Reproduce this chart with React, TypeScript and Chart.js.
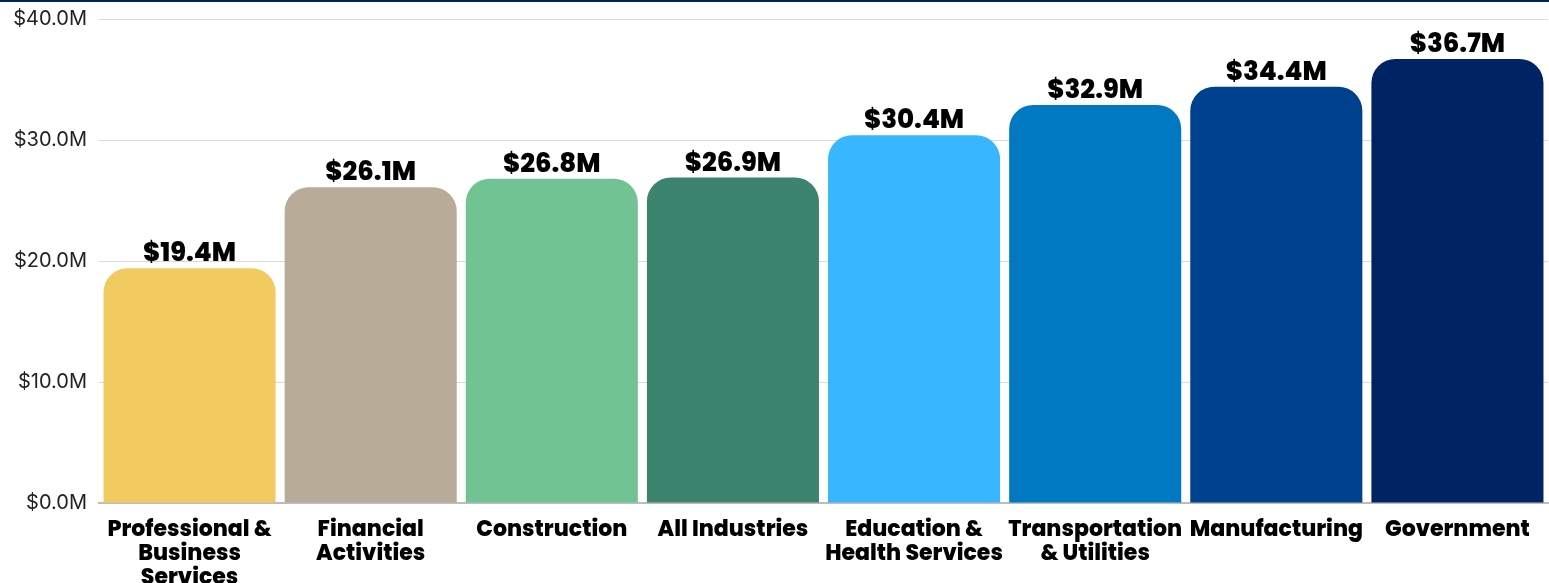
import React, { useEffect, useRef } from "react";
import { Chart, registerables } from "chart.js";

Chart.register(...registerables);

const categories: (string | string[])[] = [
  ["Professional &", "Business", "Services"],
  ["Financial", "Activities"],
  "Construction",
  "All Industries",
  ["Education &", "Health Services"],
  ["Transportation", "& Utilities"],
  "Manufacturing",
  "Government",
];
const values = [19.4, 26.1, 26.8, 26.9, 30.4, 32.9, 34.4, 36.7];
const barColors = [
  "#F1CB5F",
  "#B8AB98",
  "#72C393",
  "#3C846E",
  "#38B6FF",
  "#0079C2",
  "#00418F",
  "#002463",
];
const yTicks = [0, 10, 20, 30, 40];

const LABEL_FONT = "Poppins, Inter, 'Noto Sans', sans-serif";

const valueLabelPlugin = {
  id: "valueLabels",
  afterDatasetsDraw(chart: any) {
    const ctx = chart.ctx;
    const meta = chart.getDatasetMeta(0);
    ctx.save();
    ctx.font = `800 26px ${LABEL_FONT}`;
    ctx.fillStyle = "#000000";
    ctx.textAlign = "center";
    ctx.textBaseline = "alphabetic";
    meta.data.forEach((bar: any, i: number) => {
      const v = chart.data.datasets[0].data[i] as number;
      ctx.fillText(`$${v.toFixed(1)}M`, bar.x, bar.y - 7);
    });
    ctx.restore();
  },
};

export default function App() {
  const ref = useRef<HTMLCanvasElement | null>(null);

  useEffect(() => {
    document.body.style.margin = "0";
    if (!ref.current) return;
    const chart = new Chart(ref.current, {
      type: "bar",
      data: {
        labels: categories,
        datasets: [
          {
            data: values,
            backgroundColor: barColors,
            borderRadius: { topLeft: 24, topRight: 24, bottomLeft: 0, bottomRight: 0 },
            borderSkipped: false,
            categoryPercentage: 1,
            barPercentage: 0.95,
          },
        ],
      },
      options: {
        animation: false,
        responsive: true,
        maintainAspectRatio: false,
        layout: { padding: { top: 17, right: 1, left: 0, bottom: 0 } },
        plugins: {
          legend: { display: false },
          tooltip: { enabled: false },
        },
        scales: {
          x: {
            afterFit(scale: any) {
              scale.height = 80;
            },
            grid: { display: false },
            border: { display: true, color: "#BDBDBD", width: 2 },
            ticks: {
              color: "#000000",
              font: { family: LABEL_FONT, size: 22, weight: "800" as any, lineHeight: 1.08 },
              padding: 8,
              maxRotation: 0,
              autoSkip: false,
            },
          },
          y: {
            min: 0,
            max: 40,
            afterBuildTicks(scale: any) {
              scale.ticks = yTicks.map((v) => ({ value: v }));
            },
            afterFit(scale: any) {
              scale.width = 99;
              scale.paddingTop = 0;
            },
            grid: { color: "#DADADA", lineWidth: 1, drawTicks: false },
            border: { display: false },
            ticks: {
              color: "#222222",
              font: { family: "Inter, 'Noto Sans', sans-serif", size: 20 },
              padding: 12,
              callback: (v: any) => `$${Number(v).toFixed(1)}M`,
            },
          },
        },
      },
      plugins: [valueLabelPlugin],
    });
    return () => chart.destroy();
  }, []);

  return (
    <div style={{ width: 1549, height: 583, boxSizing: "border-box", borderTop: "2px solid #002463" }}>
      <div style={{ position: "relative", width: 1549, height: 581 }}>
        <canvas ref={ref} />
      </div>
    </div>
  );
}
